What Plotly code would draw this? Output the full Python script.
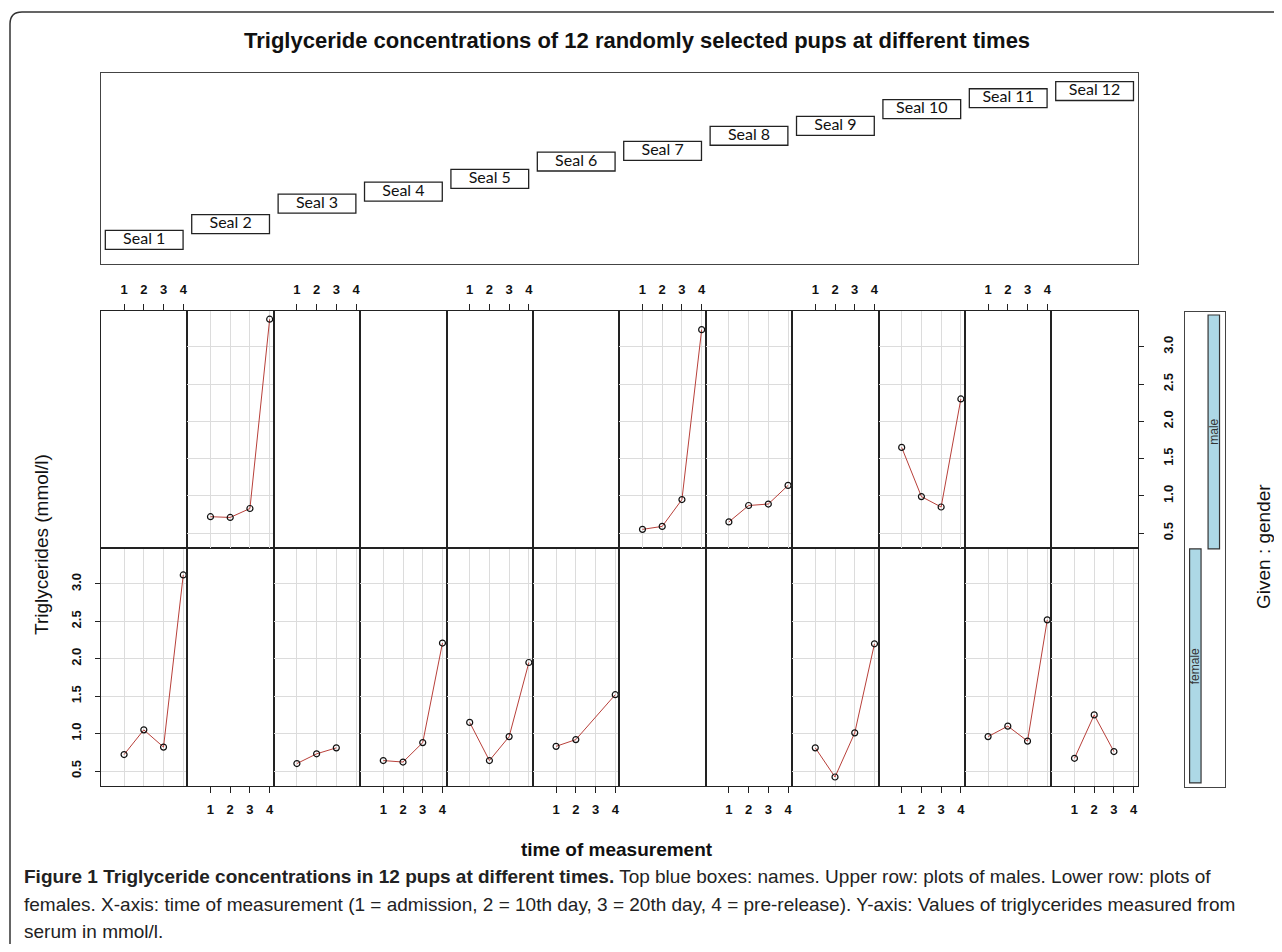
import plotly.graph_objects as go

# ---------------- data ----------------
seal_names = [f"Seal {i}" for i in range(1, 13)]
seal_gender = ["female", "male", "female", "female", "female", "female",
               "male", "male", "female", "male", "female", "female"]
gender_levels = ["female", "male"]
times = [1, 2, 3, 4]

tg_seal1 = [0.72, 1.05, 0.82, 3.12]
tg_seal2 = [0.72, 0.71, 0.83, 3.37]
tg_seal3 = [0.60, 0.73, 0.81, None]
tg_seal4 = [0.64, 0.62, 0.88, 2.21]
tg_seal5 = [1.15, 0.64, 0.96, 1.95]
tg_seal6 = [0.83, 0.92, None, 1.52]
tg_seal7 = [0.55, 0.59, 0.95, 3.23]
tg_seal8 = [0.65, 0.87, 0.89, 1.14]
tg_seal9 = [0.81, 0.42, 1.01, 2.20]
tg_seal10 = [1.65, 0.99, 0.85, 2.30]
tg_seal11 = [0.96, 1.10, 0.90, 2.52]
tg_seal12 = [0.67, 1.25, 0.76, None]
tg_all = [tg_seal1, tg_seal2, tg_seal3, tg_seal4, tg_seal5, tg_seal6,
          tg_seal7, tg_seal8, tg_seal9, tg_seal10, tg_seal11, tg_seal12]

# level (height) of each seal box in the "given" panel
seal_box_level = [1.77, 2.92, 4.42, 5.31, 6.24, 7.51, 8.29, 9.40, 10.13, 11.35, 12.15, 12.68]

y_ticks = [0.5, 1.0, 1.5, 2.0, 2.5, 3.0]
y_tick_text = ["0.5", "1.0", "1.5", "2.0", "2.5", "3.0"]
x_ticks = [1, 2, 3, 4]
x_tick_text = ["1", "2", "3", "4"]

title_text = "Triglyceride concentrations of 12 randomly selected pups at different times"
ylab_text = "Triglycerides (mmol/l)"
xlab_text = "time of measurement"
given_text = "Given : gender"
caption_bold = "Figure 1 Triglyceride concentrations in 12 pups at different times."
caption_l1 = "Top blue boxes: names. Upper row: plots of males. Lower row: plots of"
caption_l2 = ("females. X-axis: time of measurement (1 = admission, 2 = 10th day, 3 = 20th day, "
              "4 = pre-release). Y-axis: Values of triglycerides measured from")
caption_l3 = "serum in mmol/l."

# ---------------- geometry helpers (page pixels -> paper) ----------------
W, H = 1266, 936
OX, OY = 8, 8


def fx(px):
    return (px - OX) / W


def fy(py):
    return 1 - (py - OY) / H


PL, PR = 101.0, 1137.8
PW = (PR - PL) / 12
ROW_Y = {1: (311.0, 548.0), 0: (548.0, 786.0)}  # 1 = male (top), 0 = female (bottom)

XR = [-0.17, 4.21]
YR = [0.30, 3.48]

LINE_C = "#222222"
GRID_C = "#DCDCDC"
tick_font = dict(family="Liberation Sans, Arial", size=13, color="#111111", weight="bold")
SANS = "Liberation Sans, Arial"

fig = go.Figure()
layout = dict(
    width=W, height=H, margin=dict(l=0, r=0, t=0, b=0),
    paper_bgcolor="white", plot_bgcolor="rgba(0,0,0,0)", showlegend=False,
    annotations=[], shapes=[],
)


def ax_name(k, letter):
    return f"{letter}axis" if k == 1 else f"{letter}axis{k}"


def ax_ref(k, letter):
    return letter if k == 1 else f"{letter}{k}"


has_data = {}
for c in range(12):
    g = gender_levels.index(seal_gender[c])
    has_data[(g, c)] = True

for row in (0, 1):
    for c in range(12):
        k = 1 + row * 12 + c
        top, bot = ROW_Y[row]
        data_here = has_data.get((row, c), False)
        xl = (row == 1 and c % 2 == 0) or (row == 0 and c % 2 == 1)
        xa = dict(
            domain=[fx(PL + c * PW), fx(PL + (c + 1) * PW)], range=XR,
            anchor=ax_ref(k, "y"), showline=True, mirror=True, linecolor=LINE_C, linewidth=1.3,
            showgrid=data_here, gridcolor=GRID_C, gridwidth=1, zeroline=False,
            tickvals=x_ticks, ticktext=x_tick_text, fixedrange=True,
        )
        if xl:
            xa.update(ticks="outside", ticklen=6, tickcolor=LINE_C, tickwidth=1,
                      showticklabels=True, side="top" if row == 1 else "bottom",
                      tickfont=tick_font, ticklabelstandoff=5)
        else:
            xa.update(ticks="", showticklabels=False)
        yl = (row == 0 and c == 0) or (row == 1 and c == 11)
        ya = dict(
            domain=[fy(bot), fy(top)], range=YR, anchor=ax_ref(k, "x"),
            showline=True, mirror=True, linecolor=LINE_C, linewidth=1.3,
            showgrid=data_here, gridcolor=GRID_C, gridwidth=1, zeroline=False,
            tickvals=y_ticks, ticktext=y_tick_text, fixedrange=True,
        )
        if yl:
            ya.update(ticks="outside", ticklen=5, tickcolor=LINE_C, tickwidth=1,
                      showticklabels=True, side="left" if row == 0 else "right",
                      tickangle=-90, tickfont=tick_font,
                      ticklabelstandoff=9 if row == 0 else 13)
        else:
            ya.update(ticks="", showticklabels=False)
        layout[ax_name(k, "x")] = xa
        layout[ax_name(k, "y")] = ya
        if not data_here:
            # empty trace so that the (empty) panel frame is drawn
            fig.add_trace(go.Scatter(x=[None], y=[None], mode="markers", showlegend=False,
                                     xaxis=ax_ref(k, "x"), yaxis=ax_ref(k, "y"), hoverinfo="skip"))

# data traces
for c in range(12):
    row = gender_levels.index(seal_gender[c])
    k = 1 + row * 12 + c
    fig.add_trace(go.Scatter(
        x=times, y=tg_all[c], mode="lines+markers", connectgaps=True,
        line=dict(color="#B8403A", width=1),
        marker=dict(symbol="circle-open", size=6, color="#111111", line=dict(width=1.2)),
        xaxis=ax_ref(k, "x"), yaxis=ax_ref(k, "y"), hoverinfo="skip",
    ))

# ---------------- Seal "given" panel ----------------
kS = 25
GT, GB = 73.0, 264.0
frame = dict(showline=True, mirror=True, linecolor="#444444", linewidth=1.3,
             showgrid=False, zeroline=False, showticklabels=False, ticks="", fixedrange=True)
layout[ax_name(kS, "x")] = dict(domain=[fx(PL), fx(PR)], range=[0.5, 12.5], anchor=ax_ref(kS, "y"), **frame)
layout[ax_name(kS, "y")] = dict(domain=[fy(GB), fy(GT)], range=[0, 14], anchor=ax_ref(kS, "x"), **frame)
box_h = 1.39
seal_idx = list(range(1, 13))
fig.add_trace(go.Bar(
    x=seal_idx, y=[box_h] * 12, base=[lv - box_h / 2 for lv in seal_box_level], width=0.9,
    marker=dict(color="white", line=dict(color="#222222", width=1.3)),
    xaxis=ax_ref(kS, "x"), yaxis=ax_ref(kS, "y"), hoverinfo="skip",
))
fig.add_trace(go.Scatter(
    x=seal_idx, y=seal_box_level, mode="text", text=seal_names,
    textfont=dict(family="Lato, Open Sans", size=16, color="#111111"),
    xaxis=ax_ref(kS, "x"), yaxis=ax_ref(kS, "y"), hoverinfo="skip",
))

# ---------------- gender "given" panel ----------------
kG = 26
layout[ax_name(kG, "x")] = dict(domain=[fx(1184.6), fx(1224.8)], range=[0.42, 2.595], anchor=ax_ref(kG, "y"), **frame)
layout[ax_name(kG, "y")] = dict(domain=[fy(786.7), fy(311.7)], range=[0.484, 2.514], anchor=ax_ref(kG, "x"), **frame)
g_idx = [1, 2]
fig.add_trace(go.Bar(
    x=g_idx, y=[1, 1], base=[0.5, 1.5], width=0.62,
    marker=dict(color="#ADD8E6", line=dict(color="#333333", width=1.2)),
    xaxis=ax_ref(kG, "x"), yaxis=ax_ref(kG, "y"), hoverinfo="skip",
))
for gi, gl in zip(g_idx, gender_levels):
    layout["annotations"].append(dict(
        x=gi, y=gi, xref=ax_ref(kG, "x"), yref=ax_ref(kG, "y"), text=gl, textangle=-90,
        xanchor="center", yanchor="middle",
        showarrow=False, font=dict(family=SANS, size=12, color="#333333"),
    ))


# ---------------- text ----------------
def txt(px, py, s, size, bold=False, angle=0, xanchor="center", color="#111111", family=SANS):
    return dict(x=fx(px), y=fy(py), xref="paper", yref="paper", text=s, textangle=angle,
                xanchor=xanchor, yanchor="middle", showarrow=False,
                font=dict(family=family, size=size, color=color, weight="bold" if bold else "normal"))


layout["annotations"] += [
    txt(637, 41, title_text, 22, bold=True),
    txt(41, 545, ylab_text, 19, angle=-90),
    txt(1263, 547, given_text, 19, angle=-90),
    txt(617, 849, xlab_text, 19, bold=True),
    txt(22, 876, f"<b>{caption_bold}</b> {caption_l1}", 19, xanchor="left", color="#222222"),
    txt(22, 904, caption_l2, 19, xanchor="left", color="#222222"),
    txt(22, 931, caption_l3, 19, xanchor="left", color="#222222"),
]

# outer rounded frame (top-left corner visible)
r = 12
x0, y0 = 10, 12
path = (f"M {fx(x0)} {fy(960)} L {fx(x0)} {fy(y0 + r)} "
        f"Q {fx(x0)} {fy(y0)} {fx(x0 + r)} {fy(y0)} L {fx(1300)} {fy(y0)}")
layout["shapes"].append(dict(type="path", path=path, xref="paper", yref="paper",
                             line=dict(color="#333333", width=1.5)))

fig.update_layout(**layout)
fig.write_html("out.html")
